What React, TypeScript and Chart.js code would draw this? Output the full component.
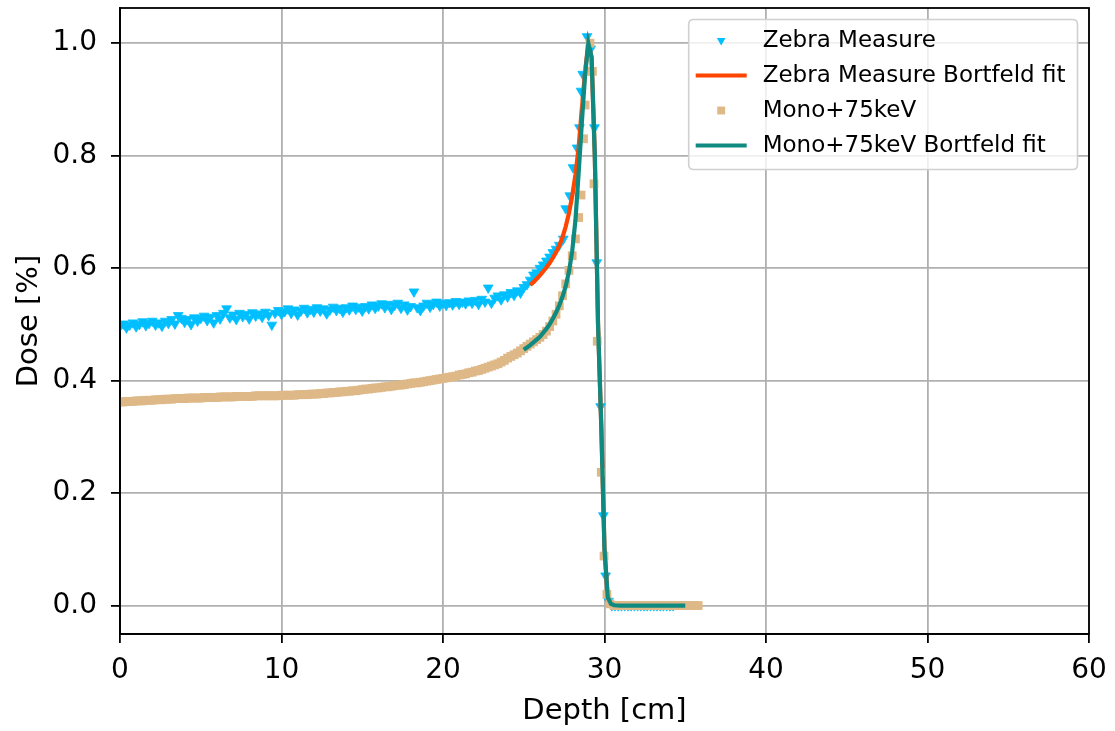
import React, { useEffect, useRef } from 'react';
import { Chart, registerables } from 'chart.js';

Chart.register(...registerables);

// ---------- data ----------
const xTickLabels = ['0', '10', '20', '30', '40', '50', '60'];
const yTickLabels = ['0.0', '0.2', '0.4', '0.6', '0.8', '1.0'];

const seriesLabels = [
  'Zebra Measure',
  'Zebra Measure Bortfeld fit',
  'Mono+75keV',
  'Mono+75keV Bortfeld fit',
];

// Zebra Measure plateau, depth 0.0 .. 24.8 cm, every 0.2 cm
const zebraPlateauStart = 0;
const zebraPlateauStep = 0.2;
const zebraPlateauDose = [
  0.497, 0.501, 0.494, 0.499, 0.503,
  0.496, 0.500, 0.505, 0.498, 0.502,
  0.506, 0.499, 0.503, 0.497, 0.506,
  0.502, 0.509, 0.501, 0.516, 0.511,
  0.504, 0.509, 0.500, 0.512, 0.506,
  0.511, 0.515, 0.507, 0.513, 0.503,
  0.516, 0.510, 0.520, 0.528, 0.512,
  0.517, 0.509, 0.520, 0.514, 0.518,
  0.510, 0.521, 0.515, 0.519, 0.513,
  0.522, 0.516, 0.499, 0.520, 0.525,
  0.518, 0.523, 0.528, 0.520, 0.526,
  0.517, 0.524, 0.529, 0.521, 0.527,
  0.522, 0.530, 0.524, 0.528, 0.519,
  0.526, 0.531, 0.525, 0.529, 0.522,
  0.530, 0.526, 0.533, 0.527, 0.531,
  0.524, 0.532, 0.528, 0.535, 0.529,
  0.533, 0.537, 0.530, 0.536, 0.527,
  0.534, 0.538, 0.529, 0.535, 0.526,
  0.532, 0.558, 0.530, 0.525, 0.533,
  0.538, 0.531, 0.536, 0.540, 0.533,
  0.538, 0.534, 0.539, 0.535, 0.541,
  0.536, 0.540, 0.537, 0.542, 0.538,
  0.543, 0.536, 0.545, 0.540, 0.565,
  0.538, 0.547, 0.551, 0.544, 0.553,
  0.549, 0.557, 0.552, 0.560, 0.556,
];

// Zebra Measure, Bragg peak region and tail
const zebraPeakDepth = [
  25.0, 25.2, 25.4, 25.6, 25.8, 26.0, 26.2, 26.4, 26.6, 26.8,
  27.0, 27.2, 27.45, 27.6, 27.85, 28.05, 28.3, 28.45, 28.55, 28.65,
  28.92, 29.15, 29.38, 29.52, 29.76, 29.93, 30.07, 30.25,
  30.45, 30.65, 30.85, 31.05, 31.25, 31.45, 31.65, 31.85, 32.05, 32.25,
  32.45, 32.65, 32.85, 33.05, 33.25, 33.45, 33.65, 33.85, 34.05, 34.25,
];
const zebraPeakDose = [
  0.566, 0.571, 0.579, 0.588, 0.592, 0.600, 0.606, 0.613, 0.620, 0.628,
  0.634, 0.641, 0.652, 0.706, 0.729, 0.779, 0.814, 0.850, 0.915, 0.945,
  1.012, 0.990, 0.850, 0.610, 0.354, 0.160, 0.053, 0.008,
  0.0, 0.0, 0.0, 0.0, 0.0, 0.0, 0.0, 0.0, 0.0, 0.0,
  0.0, 0.0, 0.0, 0.0, 0.0, 0.0, 0.0, 0.0, 0.0, 0.0,
];

// Zebra Measure Bortfeld fit
const zebraFitDepth = [
  25.4, 25.6, 25.8, 26.0, 26.2, 26.4, 26.6, 26.8, 27.0, 27.2,
  27.4, 27.6, 27.8, 28.0, 28.2, 28.4, 28.6, 28.8, 29.0,
  29.2, 29.4, 29.6, 29.8, 30.0, 30.2, 30.4, 30.6, 31.0, 32.0, 33.0, 34.0, 35.0,
];
const zebraFitDose = [
  0.570, 0.575, 0.581, 0.587, 0.594, 0.601, 0.609, 0.618, 0.628, 0.640,
  0.655, 0.674, 0.698, 0.728, 0.766, 0.815, 0.885, 0.950, 1.000,
  0.975, 0.800, 0.500, 0.320, 0.100, 0.015, 0.003, 0.0005, 0.0, 0.0, 0.0, 0.0, 0.0,
];

// Mono+75keV plateau, depth 0.0 .. 24.8 cm, every 0.2 cm
const monoPlateauStart = 0;
const monoPlateauStep = 0.2;
const monoPlateauDose = [
  0.362, 0.362, 0.363, 0.363, 0.363, 0.364, 0.364, 0.364, 0.365, 0.365,
  0.365, 0.366, 0.366, 0.366, 0.367, 0.367, 0.367, 0.368, 0.368, 0.368,
  0.368, 0.369, 0.369, 0.369, 0.369,
  0.369, 0.370, 0.370, 0.370, 0.370, 0.370, 0.371, 0.371, 0.371, 0.371,
  0.371, 0.372, 0.372, 0.372, 0.372, 0.372, 0.372, 0.373, 0.373, 0.373,
  0.373, 0.373, 0.373, 0.373, 0.373,
  0.374, 0.374, 0.374, 0.374, 0.374, 0.375, 0.375, 0.375, 0.375, 0.376,
  0.376, 0.376, 0.377, 0.377, 0.378, 0.378, 0.379, 0.379, 0.380, 0.380,
  0.381, 0.381, 0.382, 0.382, 0.383,
  0.384, 0.385, 0.385, 0.386, 0.387, 0.387, 0.388, 0.389, 0.389, 0.390,
  0.391, 0.392, 0.392, 0.393, 0.394, 0.395, 0.396, 0.396, 0.397, 0.398,
  0.399, 0.400, 0.401, 0.402, 0.403,
  0.404, 0.405, 0.406, 0.407, 0.408, 0.410, 0.411, 0.412, 0.414, 0.415,
  0.417, 0.418, 0.420, 0.422, 0.424, 0.426, 0.428, 0.430, 0.433, 0.436,
  0.440, 0.443, 0.446, 0.449, 0.453,
];

// Mono+75keV, Bragg peak region and tail
const monoPeakDepth = [
  25.0, 25.2, 25.4, 25.6, 25.8, 26.0, 26.2, 26.4, 26.6, 26.8,
  27.0, 27.2, 27.4, 27.6, 27.8, 28.0, 28.2, 28.4, 28.55, 28.7,
  28.8, 28.95, 29.1, 29.25, 29.35, 29.55, 29.8, 29.97, 30.15, 30.35,
  30.6, 30.8, 31.0, 31.2, 31.4, 31.6, 31.8, 32.0, 32.2, 32.4,
  32.6, 32.8, 33.0, 33.2, 33.4, 33.6, 33.8, 34.0, 34.2, 34.4,
  34.6, 34.8, 35.0, 35.2, 35.4, 35.6, 35.8,
];
const monoPeakDose = [
  0.457, 0.461, 0.465, 0.469, 0.473, 0.477, 0.482, 0.488, 0.496, 0.506,
  0.518, 0.533, 0.551, 0.572, 0.596, 0.622, 0.652, 0.690, 0.730, 0.830,
  0.890, 0.950, 1.000, 0.950, 0.750, 0.470, 0.237, 0.088, 0.020, 0.003,
  0.0, 0.0, 0.0, 0.0, 0.0, 0.0, 0.0, 0.0, 0.0, 0.0,
  0.0, 0.0, 0.0, 0.0, 0.0, 0.0, 0.0, 0.0, 0.0, 0.0,
  0.0, 0.0, 0.0, 0.0, 0.0, 0.0, 0.0,
];

// Mono+75keV Bortfeld fit
const monoFitDepth = [
  25.0, 25.2, 25.4, 25.6, 25.8, 26.0, 26.2, 26.4, 26.6, 26.8,
  27.0, 27.2, 27.4, 27.6, 27.8, 28.0, 28.2, 28.4, 28.6, 28.8, 29.0,
  29.2, 29.4, 29.6, 29.8, 30.0, 30.2, 30.4, 30.6, 31.0, 32.0, 33.0, 34.0, 35.0,
];
const monoFitDose = [
  0.455, 0.459, 0.463, 0.468, 0.473, 0.478, 0.485, 0.492, 0.500, 0.510,
  0.521, 0.534, 0.549, 0.568, 0.594, 0.630, 0.685, 0.770, 0.860, 0.945, 1.000,
  0.975, 0.800, 0.500, 0.320, 0.100, 0.015, 0.003, 0.0005, 0.0, 0.0, 0.0, 0.0, 0.0,
];

const xMin = 0;
const xMax = 60;
const xStep = 10;
const yMin = -0.0506;
const yMax = 1.0626;
const yStep = 0.2;

// ---------- styles ----------
const FONT = '"DejaVu Sans", "Liberation Sans", sans-serif';
const COLOR_ZEBRA = '#00BFFF';
const COLOR_ZEBRA_FIT = '#FF4500';
const COLOR_MONO = '#DEB887';
const COLOR_MONO_FIT = '#0F8A80';

function gridPoints(start: number, step: number, doses: number[]) {
  return doses.map((d, i) => ({ x: +(start + i * step).toFixed(3), y: d }));
}
function pairPoints(depths: number[], doses: number[]) {
  return depths.map((x, i) => ({ x, y: doses[i] }));
}

const framePlugin = {
  id: 'mplFrame',
  afterDatasetsDraw(chart: any) {
    const { ctx, chartArea: a } = chart;
    ctx.save();
    ctx.strokeStyle = '#000';
    ctx.lineWidth = 1.8;
    ctx.strokeRect(a.left, a.top, a.right - a.left, a.bottom - a.top);
    ctx.restore();
  },
};

const legendPlugin = {
  id: 'mplLegend',
  afterDraw(chart: any) {
    const { ctx, chartArea: a } = chart;
    const ds = chart.data.datasets;
    const fs = 23;
    ctx.save();
    ctx.font = `${fs}px ${FONT}`;
    const textW = Math.max(...ds.map((d: any) => ctx.measureText(d.label).width));
    const padL = 7;
    const handleLen = 51;
    const gap = 16;
    const padR = 12;
    const rowH = 35;
    const w = padL + handleLen + gap + textW + padR;
    const h = 21 + rowH * (ds.length - 1) + 24;
    const x0 = a.right - 11.5 - w;
    const y0 = a.top + 11.5;
    const r = 5;
    ctx.beginPath();
    ctx.moveTo(x0 + r, y0);
    ctx.lineTo(x0 + w - r, y0);
    ctx.quadraticCurveTo(x0 + w, y0, x0 + w, y0 + r);
    ctx.lineTo(x0 + w, y0 + h - r);
    ctx.quadraticCurveTo(x0 + w, y0 + h, x0 + w - r, y0 + h);
    ctx.lineTo(x0 + r, y0 + h);
    ctx.quadraticCurveTo(x0, y0 + h, x0, y0 + h - r);
    ctx.lineTo(x0, y0 + r);
    ctx.quadraticCurveTo(x0, y0, x0 + r, y0);
    ctx.closePath();
    ctx.fillStyle = 'rgba(255,255,255,0.8)';
    ctx.fill();
    ctx.strokeStyle = '#d0d0d0';
    ctx.lineWidth = 1.6;
    ctx.stroke();

    ds.forEach((d: any, i: number) => {
      const cy = y0 + 21 + rowH * i;
      const hx0 = x0 + padL;
      const hcx = hx0 + handleLen / 2;
      if (d.showLine) {
        ctx.strokeStyle = d.borderColor;
        ctx.lineWidth = d.borderWidth;
        ctx.beginPath();
        ctx.moveTo(hx0, cy);
        ctx.lineTo(hx0 + handleLen, cy);
        ctx.stroke();
      } else if (d.pointStyle === 'triangle') {
        const rr = d.pointRadius * 0.9;
        ctx.fillStyle = d.backgroundColor;
        ctx.beginPath();
        ctx.moveTo(hcx, cy + rr);
        ctx.lineTo(hcx - rr * 0.866, cy - rr / 2);
        ctx.lineTo(hcx + rr * 0.866, cy - rr / 2);
        ctx.closePath();
        ctx.fill();
      } else {
        const s = d.pointRadius * Math.SQRT2 * 0.9;
        ctx.fillStyle = d.backgroundColor;
        ctx.fillRect(hcx - s / 2, cy - s / 2, s, s);
      }
      ctx.fillStyle = '#000';
      ctx.textAlign = 'left';
      ctx.textBaseline = 'middle';
      ctx.fillText(d.label, hx0 + handleLen + gap, cy + 1);
    });
    ctx.restore();
  },
};

export default function App() {
  const canvasRef = useRef<HTMLCanvasElement | null>(null);

  useEffect(() => {
    if (!canvasRef.current) return;
    Chart.defaults.font.family = FONT;
    const zebraData = [
      ...gridPoints(zebraPlateauStart, zebraPlateauStep, zebraPlateauDose),
      ...pairPoints(zebraPeakDepth, zebraPeakDose),
    ];
    const monoData = [
      ...gridPoints(monoPlateauStart, monoPlateauStep, monoPlateauDose),
      ...pairPoints(monoPeakDepth, monoPeakDose),
    ];
    const chart = new Chart(canvasRef.current, {
      type: 'scatter',
      data: {
        datasets: [
          {
            label: seriesLabels[0],
            data: zebraData,
            showLine: false,
            pointStyle: 'triangle',
            rotation: 180,
            pointRadius: 5.6,
            pointBorderWidth: 0.8,
            backgroundColor: COLOR_ZEBRA,
            borderColor: COLOR_ZEBRA,
            order: 4,
          },
          {
            label: seriesLabels[1],
            data: pairPoints(zebraFitDepth, zebraFitDose),
            showLine: true,
            pointRadius: 0,
            borderColor: COLOR_ZEBRA_FIT,
            backgroundColor: COLOR_ZEBRA_FIT,
            borderWidth: 4.2,
            order: 3,
          },
          {
            label: seriesLabels[2],
            data: monoData,
            showLine: false,
            pointStyle: 'rect',
            pointRadius: 6.2,
            pointBorderWidth: 0,
            backgroundColor: COLOR_MONO,
            borderColor: COLOR_MONO,
            order: 2,
          },
          {
            label: seriesLabels[3],
            data: pairPoints(monoFitDepth, monoFitDose),
            showLine: true,
            pointRadius: 0,
            borderColor: COLOR_MONO_FIT,
            backgroundColor: COLOR_MONO_FIT,
            borderWidth: 4.2,
            order: 1,
          },
        ] as any,
      },
      options: {
        animation: false,
        responsive: false,
        devicePixelRatio: 1,
        layout: { padding: { left: 0, top: 8, right: 26, bottom: 0 } },
        plugins: {
          legend: { display: false },
          tooltip: { enabled: false },
        },
        scales: {
          x: {
            type: 'linear',
            min: xMin,
            max: xMax,
            afterFit: (scale: any) => {
              scale.height = 97;
              scale.paddingLeft = 0;
              scale.paddingRight = 0;
            },
            ticks: {
              stepSize: xStep,
              includeBounds: false,
              color: '#000',
              font: { size: 28, family: FONT },
              padding: 11,
              maxRotation: 0,
              callback: (v: any) => {
                const idx = Math.round((Number(v) - xMin) / xStep);
                return xTickLabels[idx] ?? '';
              },
            },
            grid: {
              color: '#b0b0b0',
              lineWidth: 1.8,
              tickColor: '#000',
              tickLength: 9,
              tickWidth: 1.8,
            },
            border: { color: '#000', width: 1.8 },
            title: {
              display: true,
              text: 'Depth [cm]',
              color: '#000',
              font: { size: 29, family: FONT },
              padding: { top: 0, bottom: 2 },
            },
          },
          y: {
            type: 'linear',
            min: yMin,
            max: yMax,
            afterFit: (scale: any) => {
              scale.width = 120;
              scale.paddingTop = 0;
              scale.paddingBottom = 0;
            },
            afterBuildTicks: (scale: any) => {
              scale.ticks = scale.ticks.filter(
                (t: any) => Math.abs(t.value / yStep - Math.round(t.value / yStep)) < 1e-6
              );
            },
            ticks: {
              stepSize: yStep,
              includeBounds: false,
              color: '#000',
              font: { size: 28, family: FONT },
              padding: 14,
              callback: (v: any) => {
                const idx = Math.round(Number(v) / yStep);
                return yTickLabels[idx] ?? '';
              },
            },
            grid: {
              color: '#b0b0b0',
              lineWidth: 1.8,
              tickColor: '#000',
              tickLength: 9,
              tickWidth: 1.8,
            },
            border: { color: '#000', width: 1.8 },
            title: {
              display: true,
              text: 'Dose [%]',
              color: '#000',
              font: { size: 29, family: FONT },
              padding: { top: 12, bottom: 0 },
            },
          },
        },
      },
      plugins: [framePlugin, legendPlugin],
    });
    return () => chart.destroy();
  }, []);

  return (
    <div style={{ position: 'absolute', left: 0, top: 0, width: 1115, height: 731, background: '#fff' }}>
      <canvas ref={canvasRef} width={1115} height={731} style={{ display: 'block' }} />
    </div>
  );
}
